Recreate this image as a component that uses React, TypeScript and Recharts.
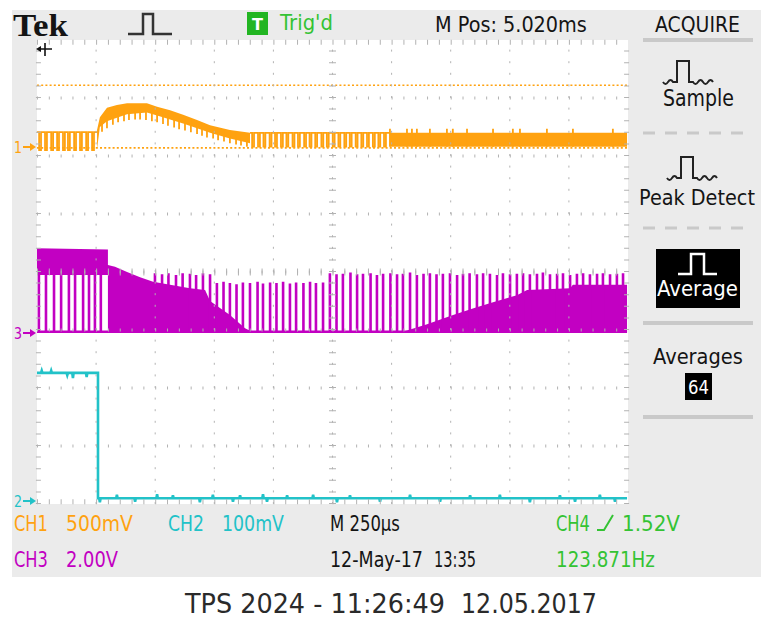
import { useLayoutEffect, useRef, useState } from "react";
import { ComposedChart, Line, Area, XAxis, YAxis, ReferenceLine } from "recharts";

// Horizontal axis: time in µs relative to the trigger (250 µs/div).
// Vertical axis: screen divisions, 0 = graticule centre.
const TIME_TICKS = [-250, 0, 250, 500, 750, 1000, 1250, 1500, 1750, 2000, 2250];
const DIV_TICKS = [-4, -3, -2, -1, 0, 1, 2, 3, 4];

// CH1 (orange)
const CH1_CURSORS = [3.22, 2.14];
const CH1_PRE_HI = 2.41;
const CH1_PRE_LO = 2.1;
const CH1_PRE_DIPS = [-237, -212, -186, -161, -136, -115, -89, -64, -38, -13];
const CH1_HUMP_T = [4, 16, 46, 88, 131, 215, 258, 313, 368, 427, 482, 566, 651];
const CH1_HUMP_HI = [2.45, 2.67, 2.83, 2.88, 2.91, 2.91, 2.85, 2.79, 2.71, 2.62, 2.53, 2.45, 2.4];
const CH1_HUMP_LO = [2.12, 2.5, 2.6, 2.66, 2.72, 2.75, 2.7, 2.63, 2.56, 2.48, 2.4, 2.3, 2.22];
const CH1_HUMP_SPIKES: [number, number][] = [
  [25, 2.42], [46, 2.48], [71, 2.54], [93, 2.58], [118, 2.6], [139, 2.62], [165, 2.63],
  [186, 2.63], [211, 2.62], [236, 2.6], [258, 2.58], [283, 2.55], [304, 2.52], [330, 2.49],
  [351, 2.46], [376, 2.44], [401, 2.41], [427, 2.38], [448, 2.35], [469, 2.32], [495, 2.3],
  [516, 2.27], [541, 2.25], [566, 2.22], [592, 2.2], [613, 2.18], [638, 2.16],
];
const CH1_TAIL_HI = 2.4;
const CH1_TAIL_LO = 2.16;
const CH1_TAIL_DIPS = [
  664, 689, 712, 738, 761, 786, 809, 835, 858, 884, 907, 931, 957, 980, 1005, 1029, 1054,
  1077, 1102, 1126, 1150, 1175, 1198, 1222,
];
const CH1_BAND_T = [1243, 2246];
const CH1_BAND_TOP = 2.47;
const CH1_BAND_SPIKES = [1243, 1315, 1336, 1357, 1412, 1484, 1509, 1569, 1679, 1763, 1793, 1907, 2017, 2186];

// CH3 (magenta)
const CH3_BASE = -1.03;
const CH3_FILL_T = [-250, 50, 50, 80, 131, 186, 241, 313, 397, 461, 482, 524, 566, 630, 660];
const CH3_FILL_LO = [-0.05, -0.05, -1.03, -1.03, -1.03, -1.03, -1.03, -1.03, -1.03, -1.03, -1.03, -1.03, -1.03, -1.03, -1.03];
const CH3_FILL_HI = [0.41, 0.39, 0.12, 0.09, 0.0, -0.09, -0.17, -0.22, -0.28, -0.31, -0.5, -0.62, -0.74, -0.97, -1.03];
const CH3_RISE_T = [1298, 1400, 1510, 1600, 1679, 1780, 1823, 2005, 2017, 2246];
const CH3_RISE_HI = [-1.03, -0.9, -0.74, -0.62, -0.52, -0.4, -0.31, -0.28, -0.22, -0.22];
const CH3_PRE_TOP = -0.05;
const CH3_PRE_SPIKES = [-242, -212, -178, -148, -115, -89, -55, -30, -5, 20];
const CH3_SPIKES: [number, number][] = [
  [249, -0.02], [279, -0.04], [306, -0.02], [338, -0.05], [366, -0.02], [397, -0.03], [423, -0.05],
  [452, -0.02], [482, -0.04], [511, -0.19], [539, -0.17], [566, -0.19], [594, -0.21], [621, -0.18],
  [651, -0.19], [683, -0.17], [706, -0.2], [736, -0.18], [763, -0.19], [791, -0.17], [820, -0.2],
  [846, -0.18], [877, -0.19], [905, -0.17], [930, -0.19], [960, -0.18], [989, -0.02], [1017, -0.04],
  [1044, -0.03], [1076, -0.01], [1104, -0.04], [1129, -0.03], [1161, -0.02], [1188, -0.05],
  [1214, -0.03], [1245, -0.02], [1273, -0.04], [1298, -0.03], [1328, -0.01], [1357, -0.05],
  [1385, -0.03], [1412, -0.02], [1440, -0.04], [1467, -0.03], [1497, -0.02], [1527, -0.05],
  [1552, -0.03], [1580, -0.02], [1611, -0.04], [1637, -0.02], [1666, -0.03], [1696, -0.05],
  [1721, -0.02], [1751, -0.04], [1780, -0.03], [1806, -0.02], [1835, -0.04], [1865, -0.03],
  [1890, -0.01], [1920, -0.04], [1950, -0.03], [1975, -0.02], [2005, -0.05], [2034, -0.03],
  [2060, -0.02], [2089, -0.04], [2119, -0.03], [2144, -0.02], [2174, -0.04], [2203, -0.03],
  [2229, -0.02],
];

// CH2 (cyan)
const CH2_HIGH = -1.74;
const CH2_LOW = -3.9;
const CH2_EDGE = 8;
const CH2_HIGH_BLIPS: [number, number][] = [[-230, -1.7], [-190, -1.7], [-122, -1.78], [-98, -1.83], [-40, -1.81]];
const CH2_LOW_BLIPS: [number, number][] = [
  [16, -3.97], [88, -3.84], [165, -3.96], [258, -3.83], [325, -3.85], [439, -3.97], [494, -3.84],
  [579, -3.96], [609, -3.85], [706, -3.83], [723, -3.96], [808, -3.85], [918, -3.84], [1019, -3.97],
  [1074, -3.85], [1201, -3.96], [1328, -3.84], [1455, -3.96], [1582, -3.85], [1708, -3.84],
  [1835, -3.97], [1962, -3.85], [2026, -3.96], [2131, -3.84], [2195, -3.96],
];

const T_MIN = -250;
const T_END = 2246;

const ORANGE = "#ffa210";
const MAGENTA = "#c200c2";
const CYAN = "#22c2c8";
const GREEN = "#34c334";
const GRID = "#b2b2b2";
const PANEL = "#ebebeb";
const SANS = "'DejaVu Sans', 'Liberation Sans', sans-serif";

type Pt = { t: number; v: number | null };

// square wave sitting at `hi` with short excursions down to `lo`
function dipWave(from: number, to: number, hi: number, lo: number, dips: number[], w: number): Pt[] {
  const pts: Pt[] = [{ t: from, v: hi }];
  dips.forEach((d) => {
    pts.push({ t: d - w, v: hi }, { t: d - w, v: lo }, { t: d + w, v: lo }, { t: d + w, v: hi });
  });
  pts.push({ t: to, v: hi });
  return pts;
}

// separate vertical strokes, broken apart with null points
function strokes(list: [number, number, number][]): Pt[] {
  const pts: Pt[] = [];
  list.forEach(([t, a, b]) => {
    pts.push({ t, v: a }, { t, v: b }, { t, v: null });
  });
  return pts;
}

function blipLine(level: number, blips: [number, number][], from: number, to: number): Pt[] {
  const pts: Pt[] = [{ t: from, v: level }];
  blips.forEach(([t, v]) => {
    pts.push({ t: t - 3, v: level }, { t, v }, { t: t + 3, v: level });
  });
  pts.push({ t: to, v: level });
  return pts;
}

const ch1Pre = dipWave(T_MIN, CH1_HUMP_T[0], CH1_PRE_HI, CH1_PRE_LO, CH1_PRE_DIPS, 4);
const ch1Hump = CH1_HUMP_T.map((t, i) => ({ t, band: [CH1_HUMP_LO[i], CH1_HUMP_HI[i]] }));
const ch1HumpSpikes = strokes(CH1_HUMP_SPIKES.map(([t, lo]) => [t, lo, lo + 0.2]));
const ch1Tail = dipWave(CH1_HUMP_T[CH1_HUMP_T.length - 1], CH1_BAND_T[0], CH1_TAIL_HI, CH1_TAIL_LO, CH1_TAIL_DIPS, 4);
const ch1Band = CH1_BAND_T.map((t) => ({ t, band: [CH1_TAIL_LO, CH1_TAIL_HI] }));
const ch1BandSpikes = strokes(CH1_BAND_SPIKES.map((t) => [t, CH1_TAIL_LO, CH1_BAND_TOP]));

const ch3Fill = CH3_FILL_T.map((t, i) => ({ t, band: [CH3_FILL_LO[i], CH3_FILL_HI[i]] }));
const ch3Rise = CH3_RISE_T.map((t, i) => ({ t, band: [CH3_BASE, CH3_RISE_HI[i]] }));
const ch3Base = [{ t: T_MIN, v: CH3_BASE }, { t: T_END, v: CH3_BASE }];
const ch3Spikes = strokes([
  ...CH3_PRE_SPIKES.map((t): [number, number, number] => [t, CH3_BASE, CH3_PRE_TOP]),
  ...CH3_SPIKES.map(([t, top]): [number, number, number] => [t, CH3_BASE, top]),
]);

const ch2 = [
  ...blipLine(CH2_HIGH, CH2_HIGH_BLIPS, T_MIN, CH2_EDGE),
  ...blipLine(CH2_LOW, CH2_LOW_BLIPS, CH2_EDGE, T_END),
];

// text squeezed horizontally to a fixed width, like the scope's narrow font
function Txt({ x, y, w, size = 21, fill = "#141414", family = SANS, weight = 400, children }: any) {
  const ref = useRef<SVGTextElement>(null);
  const [sx, setSx] = useState(1);
  useLayoutEffect(() => {
    const n = ref.current ? ref.current.getComputedTextLength() : 0;
    if (n > 0) setSx(w / n);
  }, [w, children, size, family]);
  return (
    <text ref={ref} transform={`translate(${x} ${y}) scale(${sx} 1)`} fontSize={size} fill={fill}
      fontFamily={family} fontWeight={weight}>
      {children}
    </text>
  );
}

function Scope() {
  const area = { isAnimationActive: false, stroke: "none", fillOpacity: 1, type: "linear" as const, dataKey: "band" };
  const line = { isAnimationActive: false, dot: false, activeDot: false, type: "linear" as const, dataKey: "v", connectNulls: false };
  return (
    <ComposedChart width={761} height={621} margin={{ top: 40, right: 133, bottom: 117, left: 37 }}>
      <XAxis type="number" dataKey="t" domain={[-250, 2250]} ticks={TIME_TICKS} hide allowDataOverflow />
      <YAxis type="number" domain={[-4, 4]} ticks={DIV_TICKS} hide allowDataOverflow />

      <Area {...area} data={ch3Fill} fill={MAGENTA} />
      <Area {...area} data={ch3Rise} fill={MAGENTA} />
      <Line {...line} data={ch3Base} stroke={MAGENTA} strokeWidth={2.5} />
      <Line {...line} data={ch3Spikes} stroke={MAGENTA} strokeWidth={2.6} />

      <Area {...area} data={ch1Hump} fill={ORANGE} />
      <Area {...area} data={ch1Band} fill={ORANGE} />
      <Line {...line} data={ch1Pre} stroke={ORANGE} strokeWidth={1.8} />
      <Line {...line} data={ch1Tail} stroke={ORANGE} strokeWidth={1.8} />
      <Line {...line} data={ch1HumpSpikes} stroke={ORANGE} strokeWidth={1.8} />
      <Line {...line} data={ch1BandSpikes} stroke={ORANGE} strokeWidth={1.8} />

      <Line {...line} data={ch2} stroke={CYAN} strokeWidth={2.6} />

      {CH1_CURSORS.map((y) => (
        <ReferenceLine key={`c${y}`} y={y} stroke={ORANGE} strokeWidth={1.6} strokeDasharray="2 2.2" />
      ))}

      {TIME_TICKS.slice(1, -1).map((t) => (
        <ReferenceLine key={`gx${t}`} x={t} stroke={GRID} strokeWidth={1} strokeDasharray="2 9.6" />
      ))}
      {DIV_TICKS.slice(1, -1).map((d) => (
        <ReferenceLine key={`gy${d}`} y={d} stroke={GRID} strokeWidth={3} strokeDasharray="1 10.82" />
      ))}
      <ReferenceLine x={1000} stroke={GRID} strokeWidth={7} strokeDasharray="1 10.6" />
      <ReferenceLine y={0} stroke={GRID} strokeWidth={7} strokeDasharray="1 10.82" />
      <ReferenceLine y={3.96} stroke={GRID} strokeWidth={5} strokeDasharray="1 10.82" />
      <ReferenceLine y={-3.96} stroke={GRID} strokeWidth={5} strokeDasharray="1 10.82" />
      <ReferenceLine x={-244} stroke={GRID} strokeWidth={5} strokeDasharray="1 10.6" />
      <ReferenceLine x={2244} stroke={GRID} strokeWidth={5} strokeDasharray="1 10.6" />
    </ComposedChart>
  );
}

function Marker({ y, label, color }: { y: number; label: string; color: string }) {
  return (
    <g fill={color}>
      <Txt x={14} y={y + 6} w={8} size={16} fill={color}>{label}</Txt>
      <path d={`M23 ${y} H31`} stroke={color} strokeWidth={2} />
      <path d={`M30 ${y - 4} L36 ${y} L30 ${y + 4} Z`} />
    </g>
  );
}

function Overlay() {
  const sep = "#c9c9c9";
  const wig = (x: number, y: number) =>
    `M${x} ${y} q2.5 4 5 0 q2.5 -4 5 0 H${x + 14} V${y - 21} H${x + 26} V${y} H${x + 30} q2.5 4 5 0 q2.5 -4 5 0 q2.5 4 5 0 q2.5 -4 5 0`;
  return (
    <svg width={761} height={621} style={{ position: "absolute", left: 0, top: 0 }}>
      {/* header */}
      <Txt x={13} y={36} w={55} size={32} weight={700} family="'Liberation Serif', 'DejaVu Serif', serif">Tek</Txt>
      <path d="M128 34 H143 V14 H153 V34 H172" stroke="#333" strokeWidth={2.5} fill="none" />
      <rect x={247} y={12} width={21} height={23} fill="#22b522" />
      <Txt x={252} y={30} w={11} size={16} weight={700} fill="#fff">T</Txt>
      <Txt x={280} y={30} w={53} size={22} fill={GREEN}>Trig'd</Txt>
      <Txt x={435} y={32} w={152} size={22}>M Pos: 5.020ms</Txt>
      <Txt x={655} y={32} w={85} size={22}>ACQUIRE</Txt>

      {/* acquire menu */}
      <rect x={643} y={38} width={110} height={4} fill={sep} />
      <path d={wig(663, 82)} stroke="#222" strokeWidth={2} fill="none" />
      <Txt x={663} y={106} w={71} size={23}>Sample</Txt>
      <line x1={643} y1={133} x2={753} y2={133} stroke={sep} strokeWidth={3} strokeDasharray="12 10" />
      <path d={wig(667, 178)} stroke="#222" strokeWidth={2} fill="none" />
      <Txt x={639} y={205} w={116} size={22}>Peak Detect</Txt>
      <line x1={643} y1={228} x2={753} y2={228} stroke={sep} strokeWidth={3} strokeDasharray="12 10" />
      <rect x={656} y={249} width={84} height={59} fill="#000" />
      <path d="M678 274 H691 V254 H704 V274 H717" stroke="#fff" strokeWidth={2.5} fill="none" />
      <Txt x={657} y={296} w={81} size={21} fill="#fff">Average</Txt>
      <rect x={643} y={321} width={110} height={4} fill={sep} />
      <Txt x={653} y={364} w={90} size={22}>Averages</Txt>
      <rect x={685} y={373} width={27} height={27} fill="#000" />
      <Txt x={688} y={394} w={21} size={20} fill="#fff">64</Txt>
      <rect x={643} y={415} width={110} height={4} fill={sep} />

      {/* trigger position and ground markers */}
      <path d="M38 49 H52 M45 43 V56" stroke="#111" strokeWidth={1.6} />
      <path d="M36 49 L41 46 L41 52 Z" fill="#111" />
      <Marker y={147} label="1" color={ORANGE} />
      <Marker y={333} label="3" color={MAGENTA} />
      <Marker y={501} label="2" color={CYAN} />

      {/* channel readouts */}
      <Txt x={14} y={531} w={34} fill={ORANGE}>CH1</Txt>
      <Txt x={66} y={531} w={67} fill={ORANGE}>500mV</Txt>
      <Txt x={168} y={531} w={36} fill={CYAN}>CH2</Txt>
      <Txt x={222} y={531} w={62} fill={CYAN}>100mV</Txt>
      <Txt x={330} y={531} w={70}>M 250µs</Txt>
      <Txt x={556} y={531} w={34} fill={GREEN}>CH4</Txt>
      <path d="M597 530 H604 L613 515" stroke={GREEN} strokeWidth={2} fill="none" />
      <Txt x={622} y={531} w={58} fill={GREEN}>1.52V</Txt>
      <Txt x={14} y={567} w={34} fill={MAGENTA}>CH3</Txt>
      <Txt x={66} y={567} w={52} fill={MAGENTA}>2.00V</Txt>
      <Txt x={330} y={567} w={93}>12-May-17</Txt>
      <Txt x={434} y={567} w={42}>13:35</Txt>
      <Txt x={556} y={567} w={99} fill={GREEN}>123.871Hz</Txt>

      {/* capture stamp */}
      <Txt x={185} y={613} w={260} size={27} fill="#2a2a2a">TPS 2024 - 11:26:49</Txt>
      <Txt x={461} y={613} w={136} size={27} fill="#2a2a2a">12.05.2017</Txt>
    </svg>
  );
}

export default function App() {
  return (
    <div style={{ position: "absolute", left: 0, top: 0, width: 761, height: 621, background: "#fff", overflow: "hidden" }}>
      <div style={{ position: "absolute", left: 12, top: 10, width: 749, height: 567, background: PANEL }} />
      <div style={{ position: "absolute", left: 37, top: 40, width: 591, height: 464, background: "#fff" }} />
      <div style={{ position: "absolute", left: 0, top: 0 }}>
        <Scope />
      </div>
      <Overlay />
    </div>
  );
}
